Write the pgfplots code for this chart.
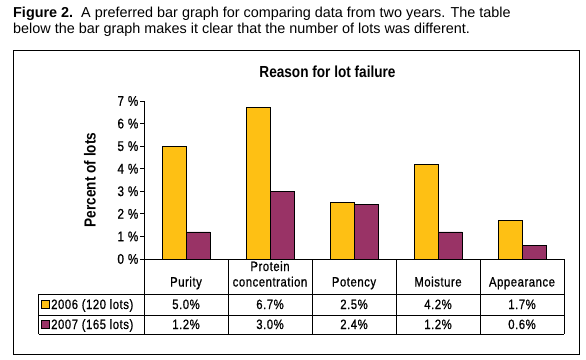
\documentclass[border=0pt]{standalone}
\usepackage{fontspec}
\setmainfont{Liberation Sans}
\newfontfamily\condb[FakeStretch=0.85]{Liberation Sans}
\newfontfamily\condt[FakeStretch=0.84,LetterSpace=4,FakeBold=0.8]{Liberation Sans}
\usepackage{pgfplots}
\pgfplotsset{compat=1.18}
\definecolor{barorange}{RGB}{254,192,20}
\definecolor{barpurple}{RGB}{153,51,102}
\newcommand{\tf}{\condt\fontsize{13.5}{15}\selectfont}
\begin{document}
\begin{tikzpicture}
\useasboundingbox (0pt,0pt) rectangle (586pt,359pt);
% outer box
\draw[line width=0.9pt] (13pt,309pt) rectangle (579pt,5pt);
% caption
\node[anchor=base west,inner sep=0pt,font=\fontsize{14.4}{16}\selectfont] at (13pt,341.5pt) {\textbf{Figure 2.}\ \ A preferred bar graph for comparing data from two years. The table};
\node[anchor=base west,inner sep=0pt,font=\fontsize{14.4}{16}\selectfont] at (13pt,325pt) {below the bar graph makes it clear that the number of lots was different.};
% title
\node[anchor=base,inner sep=0pt] at (327.5pt,281pt) {\condb\bfseries\fontsize{16}{18}\selectfont Reason for lot failure};
% y label
\node[rotate=90,inner sep=0pt] at (90pt,179pt) {\condb\bfseries\fontsize{16}{18}\selectfont Percent of lots};
\begin{axis}[
  at={(144pt,100pt)}, anchor=south west,
  scale only axis, width=420pt, height=158pt,
  xmin=-0.5, xmax=4.5, ymin=0, ymax=7,
  axis y line*=left, axis x line*=bottom,
  axis line style={line width=0.9pt},
  xtick=\empty,
  ytick={0,1,2,3,4,5,6,7},
  /pgf/number format/assume math mode=true,
  yticklabel={\condt\fontsize{14}{15}\selectfont\pgfmathprintnumber{\tick}\ \%},
  yticklabel style={inner sep=1.5pt},
  tick align=outside, major tick length=4pt,
  tick style={line width=0.9pt, black},
  ybar=0pt, bar width=24pt,
  clip=false,
]
\addplot[fill=barorange, draw=black, line width=0.8pt] coordinates {(0,5.0) (1,6.7) (2,2.5) (3,4.2) (4,1.7)};
\addplot[fill=barpurple, draw=black, line width=0.8pt] coordinates {(0,1.2) (1,3.0) (2,2.4) (3,1.2) (4,0.6)};
\end{axis}
% table grid
\begin{scope}[line width=0.9pt]
\draw (38.7pt,65pt) -- (564pt,65pt);
\draw (38.7pt,44pt) -- (564pt,44pt);
\draw (38.7pt,25pt) -- (564pt,25pt);
\draw (38.7pt,65pt) -- (38.7pt,25pt);
\foreach \xx in {144,228,312,396,480,564} {\draw (\xx pt,100pt) -- (\xx pt,25pt);}
\end{scope}
% header labels
\node[anchor=base,inner sep=0pt] at (186pt,72.5pt) {\tf Purity};
\node[anchor=base,inner sep=0pt] at (270pt,88pt) {\tf Protein};
\node[anchor=base,inner sep=0pt] at (270pt,72.5pt) {\tf concentration};
\node[anchor=base,inner sep=0pt] at (354pt,72.5pt) {\tf Potency};
\node[anchor=base,inner sep=0pt] at (438pt,72.5pt) {\tf Moisture};
\node[anchor=base,inner sep=0pt] at (522pt,72.5pt) {\tf Appearance};
% row labels
\draw[fill=barorange,line width=0.6pt] (41pt,50.5pt) rectangle (49pt,58.5pt);
\draw[fill=barpurple,line width=0.6pt] (41pt,30.5pt) rectangle (49pt,38.5pt);
\node[anchor=base west,inner sep=0pt] at (51pt,50pt) {\tf 2006 (120 lots)};
\node[anchor=base west,inner sep=0pt] at (51pt,30pt) {\tf 2007 (165 lots)};
% values
\foreach \xx/\va/\vb in {186/5.0/1.2, 270/6.7/3.0, 354/2.5/2.4, 438/4.2/1.2, 522/1.7/0.6} {
  \node[anchor=base,inner sep=0pt] at (\xx pt,50pt) {\tf \va\%};
  \node[anchor=base,inner sep=0pt] at (\xx pt,30pt) {\tf \vb\%};
}
\end{tikzpicture}
\end{document}
